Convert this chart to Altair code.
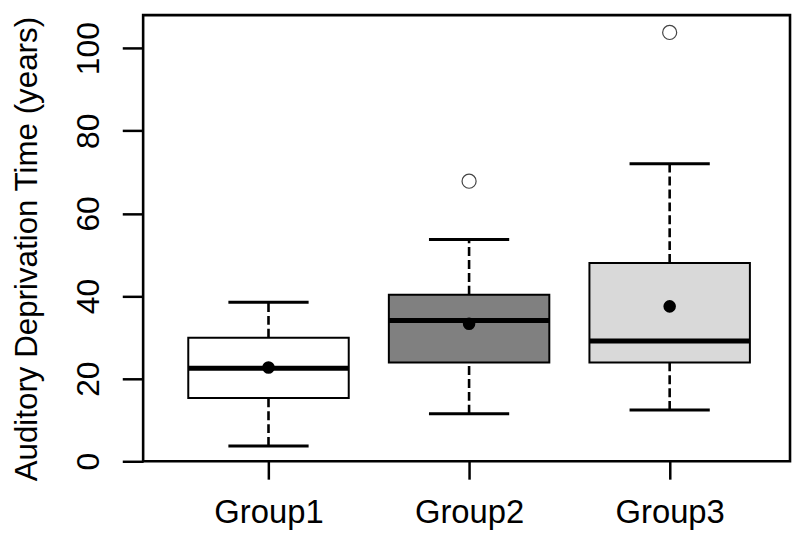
import altair as alt
import pandas as pd

groups = ["Group1", "Group2", "Group3"]
positions = [1, 2, 3]
whisker_low = [3.7, 11.5, 12.4]
q1 = [15.3, 23.9, 23.9]
median = [22.5, 34.1, 29.1]
q3 = [29.9, 40.3, 48.0]
whisker_high = [38.5, 53.7, 72.0]
means = [22.7, 33.3, 37.5]
fills = ["#ffffff", "#808080", "#d9d9d9"]

outlier_pos = [2, 3]
outlier_vals = [67.8, 103.8]

y_ticks = [0, 20, 40, 60, 80, 100]
y_title = "Auditory Deprivation Time (years)"

df = pd.DataFrame({
    "group": groups, "pos": positions, "lo": whisker_low, "q1": q1,
    "med": median, "q3": q3, "hi": whisker_high, "mean": means, "fill": fills,
})
out_df = pd.DataFrame({"pos": outlier_pos, "val": outlier_vals})

FONT = "Liberation Sans"
label_expr = "[" + ",".join("'" + g + "'" for g in groups) + "][datum.value - 1]"

xscale = alt.Scale(domain=[0.375, 3.6], nice=False, zero=False)
yscale = alt.Scale(domain=[0, 108], nice=False, zero=False)

xaxis = alt.Axis(values=positions, labelExpr=label_expr, title=None, grid=False,
                 domain=False, ticks=True, tickColor="black", tickWidth=2.5,
                 tickSize=18, labelFont=FONT, labelFontSize=33, labelColor="black",
                 labelBaseline="alphabetic", labelPadding=44, labelAngle=0)
yaxis = alt.Axis(values=y_ticks, title=y_title, grid=False, domain=False,
                 tickColor="black", tickWidth=2.5, tickSize=21, labelFont=FONT,
                 labelFontSize=32, labelColor="black", labelAngle=270,
                 labelAlign="center", labelBaseline="alphabetic", labelPadding=24,
                 titleFont=FONT, titleFontSize=31.5, titleFontWeight="normal",
                 titleColor="black", titleAngle=270, titleAlign="center",
                 titleBaseline="alphabetic", titleX=-107, titleY=235)

base = alt.Chart(df)
X = alt.X("pos:Q", scale=xscale, axis=xaxis)

whisk_lo = base.mark_rule(color="black", strokeWidth=2.6, strokeDash=[9, 4]).encode(
    x=X, y=alt.Y("lo:Q", scale=yscale, axis=yaxis), y2="q1:Q")
whisk_hi = base.mark_rule(color="black", strokeWidth=2.6, strokeDash=[9, 4]).encode(
    x="pos:Q", y="q3:Q", y2="hi:Q")

calc = base.transform_calculate(
    bl="datum.pos - 0.4", br="datum.pos + 0.4",
    cl="datum.pos - 0.2", cr="datum.pos + 0.2")

box = calc.mark_rect(stroke="black", strokeWidth=2).encode(
    x="bl:Q", x2="br:Q", y="q1:Q", y2="q3:Q",
    fill=alt.Fill("fill:N", scale=None))
med = calc.mark_rule(color="black", strokeWidth=5).encode(
    x="bl:Q", x2="br:Q", y="med:Q")
cap_lo = calc.mark_rule(color="black", strokeWidth=3).encode(
    x="cl:Q", x2="cr:Q", y="lo:Q")
cap_hi = calc.mark_rule(color="black", strokeWidth=3).encode(
    x="cl:Q", x2="cr:Q", y="hi:Q")
mean_pt = base.mark_point(filled=True, color="black", size=160, opacity=1).encode(
    x="pos:Q", y="mean:Q")
outl = alt.Chart(out_df).mark_point(filled=False, color="#444444", size=200,
                                     strokeWidth=1.2, opacity=1).encode(
    x="pos:Q", y="val:Q")

chart = alt.layer(whisk_lo, whisk_hi, box, med, cap_lo, cap_hi, mean_pt, outl).properties(
    width=651, height=449,
    autosize=alt.AutoSizeParams(type="none"),
    padding={"left": 136, "top": 5.5, "right": 2, "bottom": 70},
    background="white",
).configure_view(stroke="black", strokeWidth=2.6)

chart.save("out.html", embed_options={"renderer": "svg", "actions": False})
